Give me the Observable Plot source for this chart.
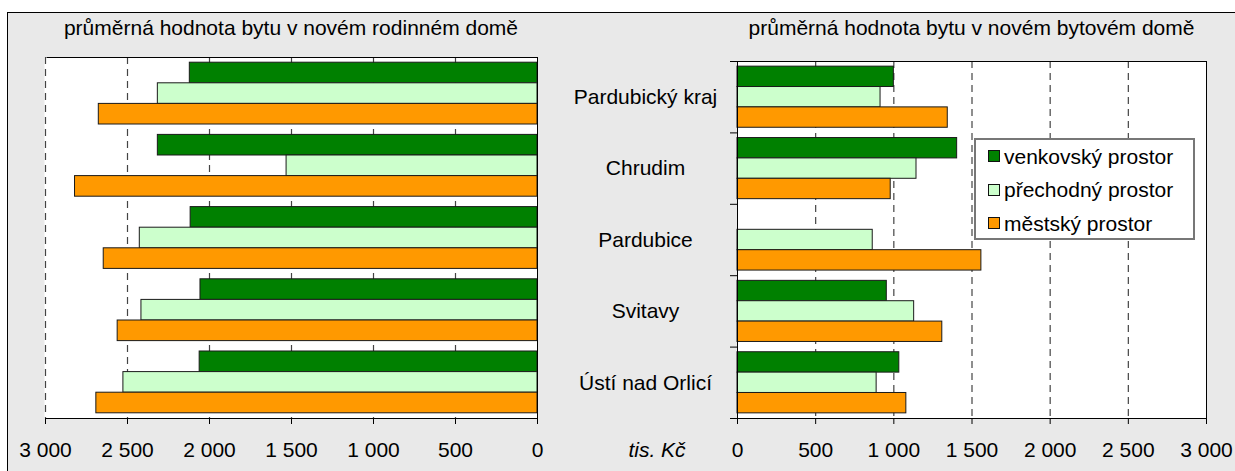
<!DOCTYPE html>
<html>
<head>
<meta charset="utf-8">
<script src="https://cdn.jsdelivr.net/npm/d3@7"></script>
<script src="https://cdn.jsdelivr.net/npm/@observablehq/plot@0.6"></script>
<style>
html, body { margin: 0; padding: 0; background: #fff; overflow: hidden; }
#root { position: relative; width: 1235px; height: 471px; overflow: hidden;
  font-family: "Liberation Sans", Arial, sans-serif; color: #000; }
#panel { position: absolute; left: 7px; top: 12px; width: 1240px; height: 470px;
  background: #e9e9e9; border: 1px solid #000; box-sizing: border-box; }
.layer { position: absolute; left: 0; top: 0; }
.layer svg { display: block; background: transparent !important; max-width: none !important; }
.layer svg text { font-family: "Liberation Sans", Arial, sans-serif; font-size: 21px; }
.txt { position: absolute; font-size: 21px; line-height: normal; white-space: nowrap; }
.title { top: 16px; text-align: center; }
.unit { top: 438px; font-style: italic; transform: translateX(-50%); }
.legend { position: absolute; left: 974px; top: 138px; width: 221px; height: 102px;
  background: #fff; border: 2px solid #777; box-sizing: border-box; }
.legend .row { position: absolute; left: 12px; height: 24px; line-height: 24px; font-size: 21px; white-space: nowrap; }
.legend .sw { display: inline-block; width: 12px; height: 12px; border: 1px solid #111;
  vertical-align: middle; margin-right: 4px; position: relative; top: -2px; box-sizing: border-box; }
</style>
</head>
<body>
<div id="root">
  <div id="panel"></div>
</div>
<script>
// ---------- data ----------
const categories = ["Pardubický kraj", "Chrudim", "Pardubice", "Svitavy", "Ústí nad Orlicí"];
const seriesNames = ["venkovský prostor", "přechodný prostor", "městský prostor"];
const seriesColors = ["#008000", "#ccffcc", "#ff9900"];

// průměrná hodnota bytu v novém rodinném domě (tis. Kč)
const rodinnyVenkovsky = [2120, 2315, 2115, 2055, 2060];
const rodinnyPrechodny = [2315, 1530, 2425, 2415, 2525];
const rodinnyMestsky   = [2675, 2820, 2645, 2560, 2690];

// průměrná hodnota bytu v novém bytovém domě (tis. Kč)
const bytovyVenkovsky = [1000, 1405, null, 955, 1035];
const bytovyPrechodny = [915, 1145, 865, 1130, 890];
const bytovyMestsky   = [1345, 980, 1560, 1310, 1080];

const xTicks = [0, 500, 1000, 1500, 2000, 2500, 3000];
const xDomain = [0, 3000];
const leftTitle = "průměrná hodnota bytu v novém rodinném domě";
const rightTitle = "průměrná hodnota bytu v novém bytovém domě";
const unitLabel = "tis. Kč";

// ---------- helpers ----------
function toRows(cols) {
  const rows = [];
  cols.forEach((vals, j) => vals.forEach((v, i) => {
    if (v != null) rows.push({category: categories[i], series: seriesNames[j], value: v});
  }));
  return rows;
}
const fmt = d3.formatLocale({decimal: ",", thousands: "\u00a0", grouping: [3], currency: ["", " Kč"]}).format(",d");

const W = 1235, H = 471;
const root = document.getElementById("root");

function makePanel({rows, reverse, margin, gridValues, dashedEdge, boundaryTicks, labels}) {
  const plotH = H - margin.top - margin.bottom;
  const plotW = W - margin.left - margin.right;
  const step = plotH / categories.length;
  const gap = step * 0.072;
  const barH = (step - 2 * gap) / seriesNames.length;

  const marks = [
    Plot.frame({fill: "white", stroke: "none"}),
    Plot.ruleX(gridValues, {stroke: "#444", strokeWidth: 1.2, strokeDasharray: "7,5"})
  ];
  seriesNames.forEach((s, j) => {
    marks.push(Plot.barX(rows.filter(r => r.series === s), {
      y: "category", x: "value",
      fill: seriesColors[j], stroke: "#1a1a1a", strokeWidth: 1,
      insetTop: gap + j * barH,
      insetBottom: step - gap - (j + 1) * barH
    }));
  });
  marks.push(Plot.frame({stroke: "#000", fill: "none"}));
  if (dashedEdge != null) {
    marks.push(Plot.ruleX([dashedEdge], {stroke: "white", strokeWidth: 2}));
    marks.push(Plot.ruleX([dashedEdge], {stroke: "#444", strokeWidth: 1.2, strokeDasharray: "7,5"}));
  }
  if (boundaryTicks) {
    marks.push(Plot.ruleY(categories, {y: d => d, dy: -step / 2, insetLeft: -7, insetRight: plotW, stroke: "#000"}));
    marks.push(Plot.ruleY(categories.slice(-1), {y: d => d, dy: step / 2, insetLeft: -7, insetRight: plotW, stroke: "#000"}));
  }
  if (labels) {
    marks.push(Plot.text(categories, {y: d => d, text: d => d, frameAnchor: "left", dx: -92, textAnchor: "middle", fill: "#000"}));
  }

  const chart = Plot.plot({
    width: W, height: H,
    marginLeft: margin.left, marginRight: margin.right,
    marginTop: margin.top, marginBottom: margin.bottom,
    style: {background: "transparent", overflow: "visible", fontSize: "21px",
            fontFamily: "Liberation Sans, Arial, sans-serif", color: "black"},
    x: {domain: xDomain, reverse, ticks: xTicks, tickFormat: fmt, tickSize: 6, tickPadding: 18, label: null},
    y: {type: "band", domain: categories, padding: 0, round: false, axis: null},
    marks
  });
  const layer = document.createElement("div");
  layer.className = "layer";
  layer.appendChild(chart);
  root.appendChild(layer);
}

// left panel: rodinné domy (reversed axis)
makePanel({
  rows: toRows([rodinnyVenkovsky, rodinnyPrechodny, rodinnyMestsky]),
  reverse: true,
  margin: {left: 45, right: W - 537, top: 57, bottom: H - 418},
  gridValues: xTicks.filter(t => t > 0 && t < 3000),
  dashedEdge: 3000,
  boundaryTicks: false,
  labels: false
});

// right panel: bytové domy
makePanel({
  rows: toRows([bytovyVenkovsky, bytovyPrechodny, bytovyMestsky]),
  reverse: false,
  margin: {left: 737, right: W - 1206, top: 61, bottom: H - 418},
  gridValues: xTicks.filter(t => t > 0 && t < 3000),
  dashedEdge: null,
  boundaryTicks: true,
  labels: true
});

// titles & unit label
function addText(cls, text, style) {
  const d = document.createElement("div");
  d.className = "txt " + cls;
  d.textContent = text;
  Object.assign(d.style, style);
  root.appendChild(d);
}
addText("title", leftTitle, {left: "45px", width: "492px"});
addText("title", rightTitle, {left: "737px", width: "469px"});
addText("unit", unitLabel, {left: "657px"});

// legend
const legend = document.createElement("div");
legend.className = "legend";
seriesNames.forEach((s, j) => {
  const row = document.createElement("div");
  row.className = "row";
  row.style.top = (5 + j * 33.4) + "px";
  const sw = document.createElement("span");
  sw.className = "sw";
  sw.style.background = seriesColors[j];
  row.appendChild(sw);
  row.appendChild(document.createTextNode(s));
  legend.appendChild(row);
});
root.appendChild(legend);
</script>
</body>
</html>
